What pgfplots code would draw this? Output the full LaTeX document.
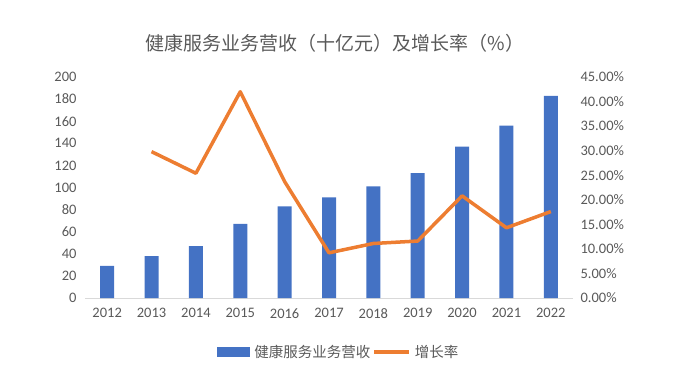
\documentclass[border=0pt]{standalone}
\usepackage{pgfplots}
\pgfplotsset{compat=1.18}
\usepackage{fontspec}
\setmainfont{Carlito}
\newfontfamily\cjk{Noto Sans CJK SC}
\definecolor{barblue}{HTML}{4472C4}
\definecolor{lineorange}{HTML}{ED7D31}
\definecolor{txt}{HTML}{595959}
\definecolor{axl}{HTML}{D9D9D9}
\begin{document}
\begin{tikzpicture}
\path[use as bounding box] (0,0) rectangle (685pt,388pt);
\node[text=txt, font=\cjk\fontsize{19}{22}\selectfont] at (335pt,345pt) {健康服务业务营收（十亿元）及增长率（\%）};
\begin{axis}[
  at={(85pt,90pt)}, anchor=south west, scale only axis,
  width=488pt, height=221pt,
  xmin=-0.5, xmax=10.5, ymin=0, ymax=200,
  ytick={0,20,...,200},
  xtick={0,...,10},
  xticklabels={2012,2013,2014,2015,2016,2017,2018,2019,2020,2021,2022},
  axis x line*=bottom, axis y line*=left,
  y axis line style={draw=none},
  x axis line style={draw=axl, line width=0.8pt, -},
  major tick length=0pt,
  tick label style={text=txt, font=\fontsize{14.5}{16}\selectfont},
  /pgf/number format/assume math mode=true,
  yticklabel style={xshift=-5pt},
  xticklabel style={yshift=-7pt},
  clip=false,
  legend style={at={(0.52,-0.244)}, anchor=center, draw=none, fill=none,
    legend columns=2, font=\cjk\fontsize{14.5}{16}\selectfont, text=txt,
    /tikz/every odd column/.append style={column sep=2pt}},
]
\addplot[ybar, bar width=14pt, fill=barblue, draw=none,
  legend image code/.code={\fill[barblue] (0pt,-5pt) rectangle (33pt,5pt);}]
  coordinates {(0,29) (1,38) (2,47) (3,67) (4,83) (5,91) (6,101) (7,113) (8,137) (9,156) (10,183)};
\addlegendentry{健康服务业务营收}
\addlegendimage{lineorange, line width=3.5pt, legend image code/.code={\draw[lineorange, line width=3.5pt] (0pt,0pt) -- (35pt,0pt);}}
\addlegendentry{增长率}
\end{axis}
\begin{axis}[
  at={(85pt,90pt)}, anchor=south west, scale only axis,
  width=488pt, height=221pt,
  xmin=-0.5, xmax=10.5, ymin=0, ymax=45,
  ytick={0,5,...,45},
  axis y line*=right, axis x line=none,
  y axis line style={draw=none},
  major tick length=0pt,
  tick label style={text=txt, font=\fontsize{14.5}{16}\selectfont},
  /pgf/number format/assume math mode=true,
  yticklabel={\pgfmathprintnumber[fixed,fixed zerofill,precision=2]{\tick}\%},
  yticklabel style={xshift=4pt},
  clip=false,
]
\addplot[lineorange, line width=3.5pt, line join=round, mark=none]
  coordinates {(1,29.8) (2,25.4) (3,42.0) (4,23.7) (5,9.2) (6,11.1) (7,11.6) (8,20.8) (9,14.3) (10,17.6)};
\end{axis}
\end{tikzpicture}
\end{document}
